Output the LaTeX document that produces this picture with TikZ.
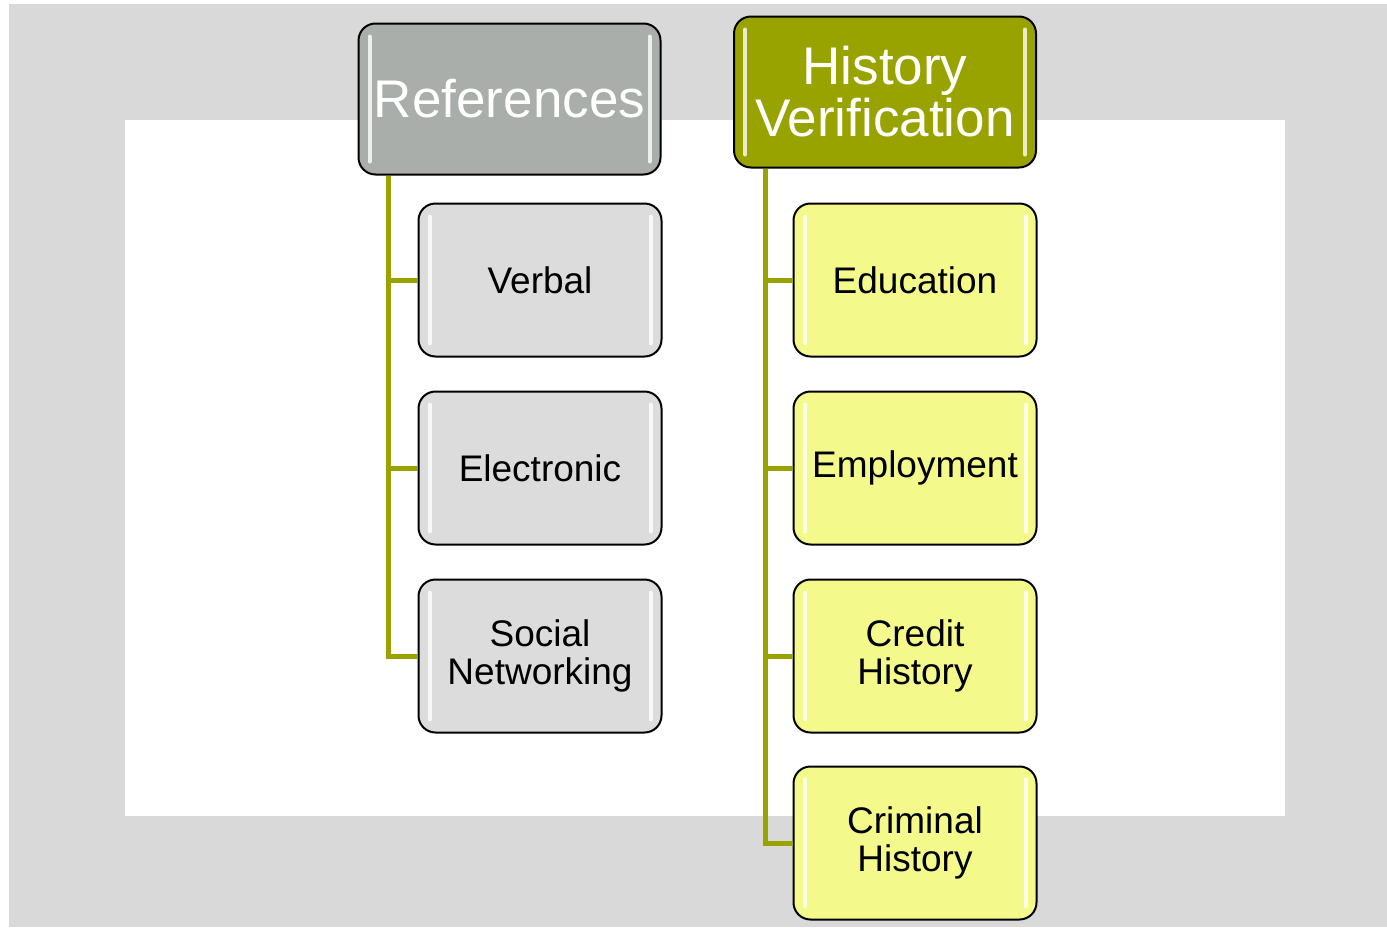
\documentclass[tikz,border=0pt]{standalone}
\usepackage{fontspec}
\setmainfont{Liberation Sans}
\usepackage{tikz}
\usetikzlibrary{calc}
\definecolor{bggray}{HTML}{D9D9D9}
\definecolor{refgray}{HTML}{A9AEAA}
\definecolor{olive}{HTML}{99A300}
\definecolor{boxgray}{HTML}{DCDCDC}
\definecolor{boxyellow}{HTML}{F3FA8B}
\tikzset{
	shine/.style={path picture={
		\draw[white, line width=4pt, line cap=round, opacity=0.8]
			([xshift=11pt,yshift=-13pt]path picture bounding box.north west) --
			([xshift=11pt,yshift=13pt]path picture bounding box.south west);
		\draw[white, line width=4pt, line cap=round, opacity=0.8]
			([xshift=-11pt,yshift=-13pt]path picture bounding box.north east) --
			([xshift=-11pt,yshift=13pt]path picture bounding box.south east);
	}},
	topbox/.style={draw=black, line width=2pt, rounded corners=17pt, shine,
		minimum width=302pt, minimum height=151pt, inner sep=0pt, align=center,
		text=white, font=\fontsize{53}{52}\selectfont},
	subbox/.style={draw=black, line width=2pt, rounded corners=17pt, shine,
		minimum width=243pt, minimum height=153pt, inner sep=0pt, align=center,
		text=black, font=\fontsize{37}{38}\selectfont},
	branch/.style={draw=olive, line width=5pt}
}
\begin{document}
\begin{tikzpicture}[x=1pt, y=-1pt]
		%%%%% START %%%%%
		
		\useasboundingbox (0, 0) rectangle (1387, 927);
		\fill[bggray] (9, 4) rectangle (1387, 927);
		\fill[white] (125, 120) rectangle (1285, 816);
		
		% left column
		\node[topbox, fill=refgray] (ref) at (509.5, 99) {References};
		\node[subbox, fill=boxgray] (verbal) at (540, 280) {Verbal};
		\node[subbox, fill=boxgray] (electronic) at (540, 468) {Electronic};
		\node[subbox, fill=boxgray] (social) at (540, 656) {Social\\Networking};
		
		% right column
		\node[topbox, fill=olive] (hist) at (885, 92) {History\\Verification};
		\node[subbox, fill=boxyellow] (edu) at (915, 280) {Education};
		\node[subbox, fill=boxyellow] (employ) at (915, 468) {Employment};
		\node[subbox, fill=boxyellow] (credit) at (915, 656) {Credit\\History};
		\node[subbox, fill=boxyellow] (criminal) at (915, 843) {Criminal\\History};
		
		\foreach \child in {verbal, electronic, social}
			\draw[branch] ([xshift=31pt]ref.south west) |- (\child.west);
		\foreach \child in {edu, employ, credit, criminal}
			\draw[branch] ([xshift=32pt]hist.south west) |- (\child.west);
		
		%%%%% END %%%%%
	\end{tikzpicture}
\end{document}
